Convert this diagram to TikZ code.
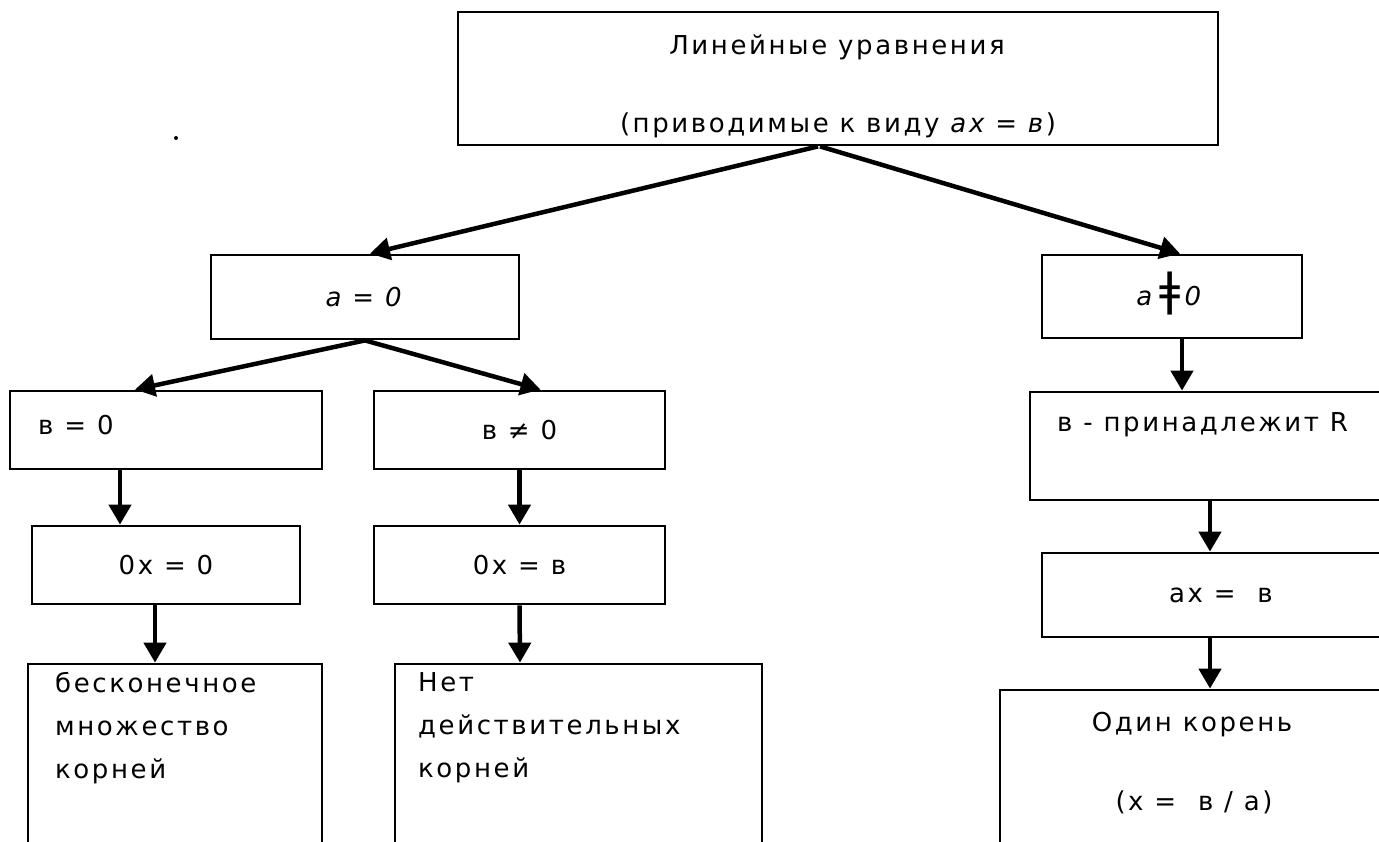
\documentclass[tikz,border=0pt]{standalone}
\usepackage{fontspec}
\setmainfont{DejaVu Sans}[LetterSpace=10]
\usetikzlibrary{arrows.meta}
\tikzstyle{box} = [rectangle, draw, line width=2.8pt, inner sep=0pt]
\tikzstyle{txt} = [font=\fontsize{26}{43}\selectfont, inner sep=0pt]
\tikzstyle{arrow} = [line width=4.5pt,-{Triangle[length=20pt,width=22pt]}]

\begin{document}
\begin{tikzpicture}[x=1pt,y=-1pt]
  \useasboundingbox (0,0) rectangle (1379,841);
  \clip (0,0) rectangle (1379,841);

  \node (lin) [box, minimum width=760pt, minimum height=133pt] at (838,78.5) {};
  \node (lin1) [txt] at (837,47) {Линейные уравнения};
  \node (lin2) [txt] at (838,125) {(приводимые к виду \textit{ax = в})};

  \node (a0) [box, txt, minimum width=308pt, minimum height=84pt] at (365,297) {\textit{a = 0}};
  \node (an0) [box, minimum width=260pt, minimum height=83pt] at (1172,296.5) {};
  \node (an0t) [txt] at (1170,294) {\textit{a}\,{\fontsize{46}{46}\selectfont ǂ}\,\textit{0}};

  \node (b0) [box, minimum width=312pt, minimum height=78pt] at (166,430) {};
  \node (b0t) [txt, anchor=west] at (38,425) {в = 0};
  \node (bn0) [box, txt, minimum width=291pt, minimum height=78pt] at (519.5,430) {в ≠ 0};
  \node (br) [box, minimum width=370pt, minimum height=108pt] at (1215,446) {};
  \node (brt) [txt, anchor=west] at (1057,425) {в - принадлежит R};

  \node (x0) [box, txt, minimum width=268pt, minimum height=78pt] at (166,565) {0x = 0};
  \node (xb) [box, txt, minimum width=291pt, minimum height=78pt] at (519.5,565) {0x = в};
  \node (axb) [box, txt, minimum width=358pt, minimum height=84pt] at (1221,595) {ax =\ \ в};

  \node (inf) [box, minimum width=294pt, minimum height=206pt] at (175,767) {};
  \node (inft) [txt, align=left, anchor=north west] at (55,672) {бесконечное\\множество\\корней};
  \node (none) [box, minimum width=367pt, minimum height=206pt] at (578.5,767) {};
  \node (nonet) [txt, align=left, anchor=north west] at (418,672) {Нет\\действительных\\корней};
  \node (one) [box, minimum width=400pt, minimum height=180pt] at (1200,780) {};
  \node (one1) [txt] at (1192,725) {Один корень};
  \node (one2) [txt] at (1194,802) {(x =\ \ в / a)};

  \fill (176,138) circle (2pt);

  \draw [arrow] ([xshift=-20pt]lin.south) -- ([xshift=5pt]a0.north);
  \draw [arrow] ([xshift=-18pt]lin.south) -- ([xshift=8pt]an0.north);
  \draw [arrow] (a0.south) -- ([xshift=-31pt]b0.north);
  \draw [arrow] (a0.south) -- ([xshift=21pt]bn0.north);
  \draw [arrow] ([xshift=-46pt]b0.south) -- ([xshift=-46pt]x0.north);
  \draw [arrow] (bn0.south) -- (xb.north);
  \draw [arrow] ([xshift=10pt]an0.south) -- ([xshift=-33pt]br.north);
  \draw [arrow] ([xshift=-5pt]br.south) -- ([xshift=-11pt]axb.north);
  \draw [arrow] ([xshift=-11pt]axb.south) -- ([xshift=10pt]one.north);
  \draw [arrow] ([xshift=-11pt]x0.south) -- ([xshift=-20pt]inf.north);
  \draw [arrow] (xb.south) -- ([xshift=-58.5pt]none.north);
\end{tikzpicture}
\end{document}
